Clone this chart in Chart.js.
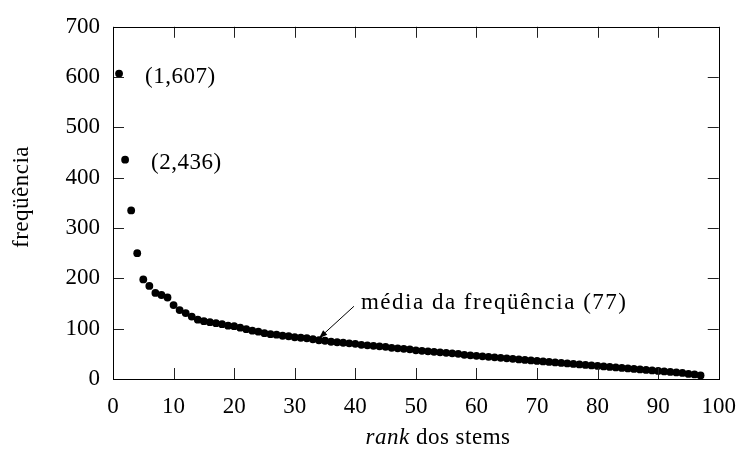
<!DOCTYPE html>
<html>
<head>
<meta charset="utf-8">
<script src="https://cdn.jsdelivr.net/npm/chart.js@4.4.1/dist/chart.umd.min.js"></script>
<style>
  html, body { margin: 0; padding: 0; background: #fff; }
  #wrap { width: 750px; height: 455px; }
</style>
</head>
<body>
<div id="wrap"><canvas id="rankChart" width="750" height="455"></canvas></div>
<script>
// rank dos stems (eixo x) e frequência de cada stem (eixo y)
const ranks = [
  1, 2, 3, 4, 5, 6, 7, 8, 9, 10, 11, 12, 13, 14, 15, 16, 17, 18, 19, 20,
  21, 22, 23, 24, 25, 26, 27, 28, 29, 30, 31, 32, 33, 34, 35, 36, 37, 38, 39, 40,
  41, 42, 43, 44, 45, 46, 47, 48, 49, 50, 51, 52, 53, 54, 55, 56, 57, 58, 59, 60,
  61, 62, 63, 64, 65, 66, 67, 68, 69, 70, 71, 72, 73, 74, 75, 76, 77, 78, 79, 80,
  81, 82, 83, 84, 85, 86, 87, 88, 89, 90, 91, 92, 93, 94, 95, 96, 97
];
const freqs = [
  607, 436, 335, 250, 198, 185, 171, 167, 162, 147, 137, 131, 124, 118, 115, 113, 111, 109, 106, 105,
  102, 99, 96, 94, 91, 89, 88, 86, 85, 83, 82, 81, 79, 77, 76, 74, 73, 72, 71, 70,
  68, 67, 66, 65, 64, 62, 61, 60, 59, 57, 56, 55, 54, 53, 52, 51, 50, 48, 47, 46,
  45, 44, 43, 42, 41, 40, 39, 38, 37, 36, 35, 34, 33, 32, 31, 30, 29, 28, 27, 26,
  25, 24, 23, 22, 21, 20, 19, 18, 17, 16, 15, 14, 13, 12, 10, 9, 7
];

const xTicks = [0, 10, 20, 30, 40, 50, 60, 70, 80, 90, 100];
const yTicks = [0, 100, 200, 300, 400, 500, 600, 700];

// pontos anotados e média
const notePoints = [[1, 607], [2, 436]];
const meanRank = 34;
const meanFreq = 77;

const FONT = "'Liberation Serif', 'DejaVu Serif', serif";

const pontos = ranks.map((r, i) => ({ x: r, y: freqs[i] }));

const moldura = {
  id: 'moldura',
  afterDraw(chart) {
    const ctx = chart.ctx;
    const a = chart.chartArea;
    const xs = chart.scales.x;
    const ys = chart.scales.y;
    const tl = 11;

    ctx.save();
    ctx.strokeStyle = '#222';
    ctx.lineWidth = 1;
    ctx.beginPath();
    // ticks para dentro nos quatro lados
    xTicks.forEach(v => {
      const px = Math.round(xs.getPixelForValue(v)) + 0.5;
      ctx.moveTo(px, a.bottom); ctx.lineTo(px, a.bottom - tl);
      ctx.moveTo(px, a.top); ctx.lineTo(px, a.top + tl);
    });
    yTicks.forEach(v => {
      const py = Math.round(ys.getPixelForValue(v)) + 0.5;
      ctx.moveTo(a.left, py); ctx.lineTo(a.left + tl, py);
      ctx.moveTo(a.right, py); ctx.lineTo(a.right - tl, py);
    });
    ctx.stroke();
    ctx.strokeStyle = '#000';
    ctx.strokeRect(Math.round(a.left) + 0.5, Math.round(a.top) + 0.5,
      Math.round(a.right - a.left), Math.round(a.bottom - a.top));

    // rótulos dos pontos
    ctx.fillStyle = '#000';
    ctx.font = '23px ' + FONT;
    ctx.textBaseline = 'middle';
    ctx.textAlign = 'left';
    ctx.letterSpacing = '0.5px';
    notePoints.forEach(([r, f]) => {
      ctx.fillText('(' + r + ',' + f + ')',
        xs.getPixelForValue(r) + 26, ys.getPixelForValue(f) + 3);
    });

    // seta da média
    const tipX = xs.getPixelForValue(meanRank);
    const tipY = ys.getPixelForValue(meanFreq) - 2;
    const tailX = tipX + 35;
    const tailY = tipY - 32;
    ctx.beginPath();
    ctx.moveTo(tailX, tailY);
    ctx.lineTo(tipX, tipY);
    ctx.stroke();
    const ang = Math.atan2(tipY - tailY, tipX - tailX);
    ctx.beginPath();
    ctx.moveTo(tipX, tipY);
    ctx.lineTo(tipX - 9 * Math.cos(ang - 0.35), tipY - 9 * Math.sin(ang - 0.35));
    ctx.lineTo(tipX - 9 * Math.cos(ang + 0.35), tipY - 9 * Math.sin(ang + 0.35));
    ctx.closePath();
    ctx.fill();

    ctx.letterSpacing = '1.5px';
    ctx.fillText('média da freqüência (' + meanFreq + ')', tailX + 7, tailY - 3);

    // título do eixo y
    ctx.letterSpacing = '0.5px';
    ctx.save();
    ctx.translate(22, 197);
    ctx.rotate(-Math.PI / 2);
    ctx.textAlign = 'center';
    ctx.fillText('freqüência', 0, 0);
    ctx.restore();

    // título do eixo x (rank em itálico)
    const it = 'italic 23px ' + FONT;
    const rm = '23px ' + FONT;
    ctx.font = it;
    const w1 = ctx.measureText('rank').width;
    ctx.font = rm;
    const w2 = ctx.measureText(' dos stems').width;
    let x0 = 438 - (w1 + w2) / 2;
    ctx.textAlign = 'left';
    ctx.font = it;
    ctx.fillText('rank', x0, 438);
    ctx.font = rm;
    ctx.fillText(' dos stems', x0 + w1, 438);
    ctx.restore();
  }
};

const ctx = document.getElementById('rankChart').getContext('2d');
window.rankChart = new Chart(ctx, {
  type: 'scatter',
  data: {
    datasets: [{
      data: pontos,
      backgroundColor: '#000',
      borderWidth: 0,
      pointRadius: 3.9,
      pointHoverRadius: 3.9
    }]
  },
  options: {
    responsive: false,
    devicePixelRatio: 1,
    animation: false,
    layout: { padding: { top: 23, right: 21, left: 0, bottom: 0 } },
    plugins: {
      legend: { display: false },
      tooltip: { enabled: false }
    },
    scales: {
      x: {
        type: 'linear',
        min: 0,
        max: 100,
        afterBuildTicks: s => { s.ticks = xTicks.map(v => ({ value: v })); },
        afterFit: s => { s.height = 76; },
        grid: { display: false, drawTicks: false },
        border: { display: false },
        ticks: { color: '#000', padding: 14, maxRotation: 0, font: { family: FONT, size: 23 } }
      },
      y: {
        min: 0,
        max: 700,
        afterBuildTicks: s => { s.ticks = yTicks.map(v => ({ value: v })); },
        afterFit: s => { s.width = 113; },
        grid: { display: false, drawTicks: false },
        border: { display: false },
        ticks: { color: '#000', padding: 13, font: { family: FONT, size: 23 } }
      }
    }
  },
  plugins: [moldura]
});
</script>
</body>
</html>
